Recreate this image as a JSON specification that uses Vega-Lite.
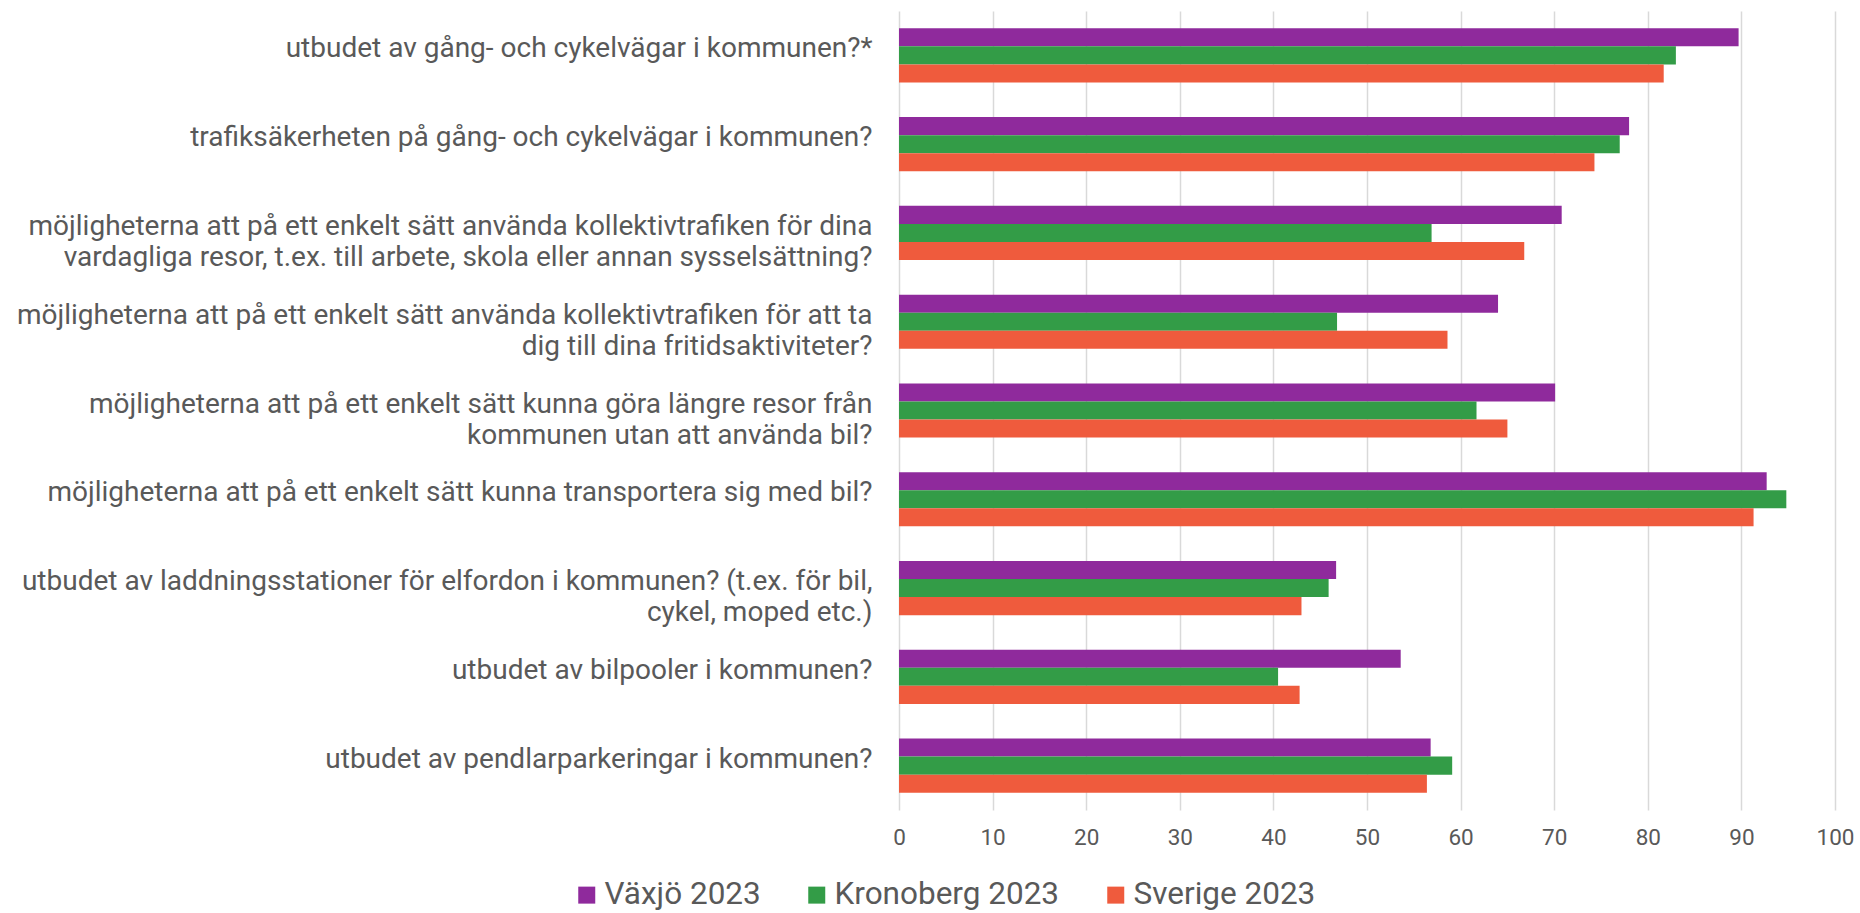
{
  "$schema": "https://vega.github.io/schema/vega-lite/v6.json",
  "autosize": {"type": "none"},
  "width": 936,
  "height": 799,
  "padding": {"left": 899, "top": 11, "right": 25, "bottom": 103},
  "background": "white",
  "config": {
    "font": "Roboto",
    "view": {"stroke": null}
  },
  "data": {
    "values": [
      {"q": "utbudet av gång- och cykelvägar i kommunen?*", "serie": "Växjö 2023", "v": 89.7},
      {"q": "utbudet av gång- och cykelvägar i kommunen?*", "serie": "Kronoberg 2023", "v": 83.0},
      {"q": "utbudet av gång- och cykelvägar i kommunen?*", "serie": "Sverige 2023", "v": 81.7},
      {"q": "trafiksäkerheten på gång- och cykelvägar i kommunen?", "serie": "Växjö 2023", "v": 78.0},
      {"q": "trafiksäkerheten på gång- och cykelvägar i kommunen?", "serie": "Kronoberg 2023", "v": 77.0},
      {"q": "trafiksäkerheten på gång- och cykelvägar i kommunen?", "serie": "Sverige 2023", "v": 74.3},
      {"q": "möjligheterna att på ett enkelt sätt använda kollektivtrafiken för dina|vardagliga resor, t.ex. till arbete, skola eller annan sysselsättning?", "serie": "Växjö 2023", "v": 70.8},
      {"q": "möjligheterna att på ett enkelt sätt använda kollektivtrafiken för dina|vardagliga resor, t.ex. till arbete, skola eller annan sysselsättning?", "serie": "Kronoberg 2023", "v": 56.9},
      {"q": "möjligheterna att på ett enkelt sätt använda kollektivtrafiken för dina|vardagliga resor, t.ex. till arbete, skola eller annan sysselsättning?", "serie": "Sverige 2023", "v": 66.8},
      {"q": "möjligheterna att på ett enkelt sätt använda kollektivtrafiken för att ta|dig till dina fritidsaktiviteter?", "serie": "Växjö 2023", "v": 64.0},
      {"q": "möjligheterna att på ett enkelt sätt använda kollektivtrafiken för att ta|dig till dina fritidsaktiviteter?", "serie": "Kronoberg 2023", "v": 46.8},
      {"q": "möjligheterna att på ett enkelt sätt använda kollektivtrafiken för att ta|dig till dina fritidsaktiviteter?", "serie": "Sverige 2023", "v": 58.6},
      {"q": "möjligheterna att på ett enkelt sätt kunna göra längre resor från|kommunen utan att använda bil?", "serie": "Växjö 2023", "v": 70.1},
      {"q": "möjligheterna att på ett enkelt sätt kunna göra längre resor från|kommunen utan att använda bil?", "serie": "Kronoberg 2023", "v": 61.7},
      {"q": "möjligheterna att på ett enkelt sätt kunna göra längre resor från|kommunen utan att använda bil?", "serie": "Sverige 2023", "v": 65.0},
      {"q": "möjligheterna att på ett enkelt sätt kunna transportera sig med bil?", "serie": "Växjö 2023", "v": 92.7},
      {"q": "möjligheterna att på ett enkelt sätt kunna transportera sig med bil?", "serie": "Kronoberg 2023", "v": 94.8},
      {"q": "möjligheterna att på ett enkelt sätt kunna transportera sig med bil?", "serie": "Sverige 2023", "v": 91.3},
      {"q": "utbudet av laddningsstationer för elfordon i kommunen? (t.ex. för bil,|cykel, moped etc.)", "serie": "Växjö 2023", "v": 46.7},
      {"q": "utbudet av laddningsstationer för elfordon i kommunen? (t.ex. för bil,|cykel, moped etc.)", "serie": "Kronoberg 2023", "v": 45.9},
      {"q": "utbudet av laddningsstationer för elfordon i kommunen? (t.ex. för bil,|cykel, moped etc.)", "serie": "Sverige 2023", "v": 43.0},
      {"q": "utbudet av bilpooler i kommunen?", "serie": "Växjö 2023", "v": 53.6},
      {"q": "utbudet av bilpooler i kommunen?", "serie": "Kronoberg 2023", "v": 40.5},
      {"q": "utbudet av bilpooler i kommunen?", "serie": "Sverige 2023", "v": 42.8},
      {"q": "utbudet av pendlarparkeringar i kommunen?", "serie": "Växjö 2023", "v": 56.8},
      {"q": "utbudet av pendlarparkeringar i kommunen?", "serie": "Kronoberg 2023", "v": 59.1},
      {"q": "utbudet av pendlarparkeringar i kommunen?", "serie": "Sverige 2023", "v": 56.4}
    ]
  },
  "mark": {"type": "bar"},
  "encoding": {
    "y": {
      "field": "q",
      "type": "nominal",
      "sort": null,
      "scale": {"paddingInner": 0.39, "paddingOuter": 0.195},
      "axis": {
        "title": null,
        "domain": false,
        "ticks": false,
        "labelExpr": "split(datum.label, '|')",
        "labelFontSize": 28,
        "labelColor": "#595959",
        "labelLimit": 0,
        "labelPadding": 27,
        "labelLineHeight": 31,
        "labelOffset": -6,
        "labelFont": "Roboto"
      }
    },
    "yOffset": {
      "field": "serie",
      "type": "nominal",
      "sort": ["Växjö 2023", "Kronoberg 2023", "Sverige 2023"],
      "scale": {"paddingInner": 0, "paddingOuter": 0}
    },
    "x": {
      "field": "v",
      "type": "quantitative",
      "scale": {"domain": [0, 100], "nice": false},
      "axis": {
        "title": null,
        "values": [0, 10, 20, 30, 40, 50, 60, 70, 80, 90, 100],
        "domain": false,
        "ticks": false,
        "grid": true,
        "gridColor": "#d9d9d9",
        "gridWidth": 1.5,
        "labelFlush": false,
        "labelFontSize": 22.5,
        "labelColor": "#595959",
        "labelPadding": 16,
        "labelFont": "Roboto"
      }
    },
    "color": {
      "field": "serie",
      "type": "nominal",
      "scale": {
        "domain": ["Växjö 2023", "Kronoberg 2023", "Sverige 2023"],
        "range": ["#8f2a9c", "#339c47", "#ef5b3d"]
      },
      "legend": {
        "title": null,
        "orient": "none",
        "direction": "horizontal",
        "legendX": -328,
        "legendY": 868,
        "symbolType": "square",
        "symbolSize": 289,
        "symbolStrokeWidth": 0,
        "labelFontSize": 31.5,
        "labelColor": "#595959",
        "labelFont": "Roboto",
        "labelOffset": 2,
        "columnPadding": 40,
        "labelLimit": 0
      }
    }
  }
}
